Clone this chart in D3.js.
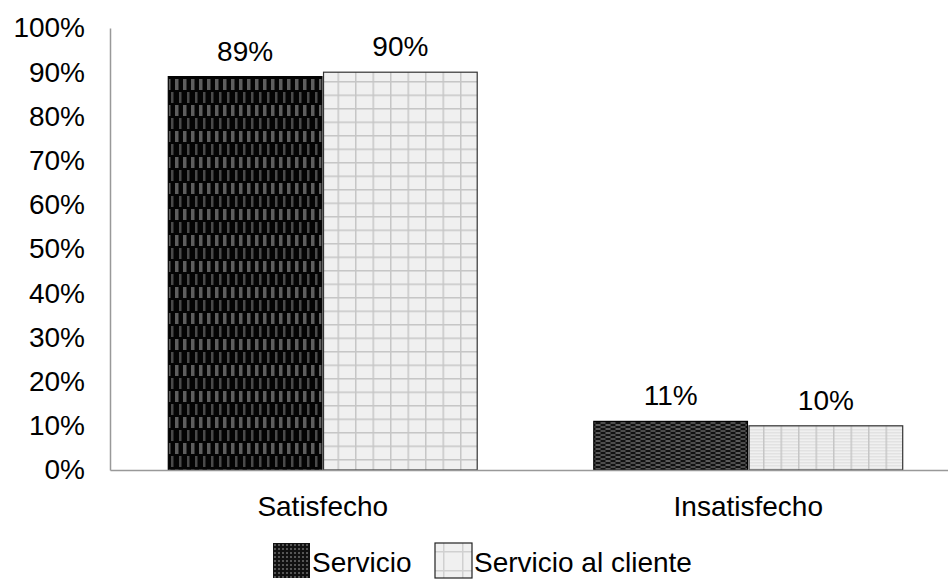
<!DOCTYPE html>
<html>
<head>
<meta charset="utf-8">
<script src="https://cdn.jsdelivr.net/npm/d3@7"></script>
<style>
  html, body { margin: 0; padding: 0; background: #fff; }
  svg { display: block; font-family: Arial, "Liberation Sans", sans-serif; }
</style>
</head>
<body>
<svg id="chart" width="948" height="579"></svg>
<script>
// Satisfaction by category for the two series
const categories = ["Satisfecho", "Insatisfecho"];
const seriesNames = ["Servicio", "Servicio al cliente"];
const servicio = [0.89, 0.11];
const servicioAlCliente = [0.90, 0.10];
const yTicks = [0, 0.1, 0.2, 0.3, 0.4, 0.5, 0.6, 0.7, 0.8, 0.9, 1.0];

const FONT = 28;
const svg = d3.select("#chart");
const defs = svg.append("defs");

// Fill patterns
function darkTall(id) {
  const p = defs.append("pattern").attr("id", id).attr("patternUnits", "userSpaceOnUse")
    .attr("width", 8).attr("height", 26);
  p.append("rect").attr("width", 8).attr("height", 26).attr("fill", "#040404");
  p.append("rect").attr("x", 1).attr("y", 1).attr("width", 3.5).attr("height", 11).attr("fill", "#5e5e5e");
  p.append("rect").attr("x", 5).attr("y", 14).attr("width", 2.5).attr("height", 11).attr("fill", "#4a4a4a");
}
function darkFlat(id) {
  const p = defs.append("pattern").attr("id", id).attr("patternUnits", "userSpaceOnUse")
    .attr("width", 10).attr("height", 4);
  p.append("rect").attr("width", 10).attr("height", 4).attr("fill", "#111");
  p.append("rect").attr("x", 0).attr("y", 0).attr("width", 5).attr("height", 2).attr("fill", "#5a5a5a");
  p.append("rect").attr("x", 5).attr("y", 2).attr("width", 5).attr("height", 2).attr("fill", "#4c4c4c");
}
function lightGrid(id, w, h, hColor) {
  const p = defs.append("pattern").attr("id", id).attr("patternUnits", "userSpaceOnUse")
    .attr("width", w).attr("height", h);
  p.append("rect").attr("width", w).attr("height", h).attr("fill", "#f0f0f0");
  p.append("rect").attr("x", 0).attr("y", 0).attr("width", w).attr("height", 1.5).attr("fill", hColor);
  p.append("rect").attr("x", 0).attr("y", 0).attr("width", 1.5).attr("height", h).attr("fill", "#c6c6c6");
}
darkTall("pDark0");
darkFlat("pDark1");
lightGrid("pLight0", 17.5, 13.5, "#c6c6c6");
lightGrid("pLight1", 17.5, 3, "#e2e2e2");
(function () {
  const p = defs.append("pattern").attr("id", "pLegDark").attr("patternUnits", "userSpaceOnUse")
    .attr("width", 4).attr("height", 4);
  p.append("rect").attr("width", 4).attr("height", 4).attr("fill", "#111");
  p.append("rect").attr("x", 1).attr("y", 1).attr("width", 2).attr("height", 2).attr("fill", "#555");
  const q = defs.append("pattern").attr("id", "pLegLight").attr("patternUnits", "userSpaceOnUse")
    .attr("width", 19).attr("height", 19).attr("x", 8).attr("y", 8);
  q.append("rect").attr("width", 19).attr("height", 19).attr("fill", "#f0f0f0");
  q.append("rect").attr("width", 19).attr("height", 1.5).attr("fill", "#d0d0d0");
  q.append("rect").attr("width", 1.5).attr("height", 19).attr("fill", "#d0d0d0");
})();

const plotLeft = 110, plotRight = 961, plotTop = 28, plotBottom = 470;

const x = d3.scaleBand().domain(categories).range([plotLeft, plotRight]).paddingInner(0).paddingOuter(0);
const groupPad = 0.137;
const x1 = d3.scaleBand().domain(seriesNames)
  .range([x.bandwidth() * groupPad, x.bandwidth() * (1 - groupPad)]).paddingInner(0.01);
const y = d3.scaleLinear().domain([0, 1]).range([plotBottom, plotTop]);

// Y axis
const yAxis = d3.axisLeft(y).tickValues(yTicks).tickSize(0).tickPadding(25)
  .tickFormat(d3.format(".0%"));
const gy = svg.append("g").attr("transform", `translate(${plotLeft},0)`).call(yAxis);
gy.select(".domain").attr("stroke", "#999").attr("stroke-width", 1.5);
gy.selectAll("text").attr("font-size", FONT).attr("fill", "#000");

// Bars
const rows = categories.map((c, i) => ({ cat: c, idx: i, vals: [servicio[i], servicioAlCliente[i]] }));
const groups = svg.append("g").selectAll("g").data(rows).join("g")
  .attr("transform", d => `translate(${x(d.cat)},0)`);

groups.selectAll("rect").data(d => d.vals.map((v, s) => ({ v, s, idx: d.idx })))
  .join("rect")
  .attr("x", d => x1(seriesNames[d.s]))
  .attr("y", d => y(d.v))
  .attr("width", x1.bandwidth())
  .attr("height", d => y(0) - y(d.v))
  .attr("fill", d => d.s === 0 ? `url(#pDark${d.idx})` : `url(#pLight${d.idx})`)
  .attr("stroke", d => d.s === 0 ? "#000" : "#333")
  .attr("stroke-width", 1.2);

// Value labels
groups.selectAll("text.val").data(d => d.vals.map((v, s) => ({ v, s })))
  .join("text").attr("class", "val")
  .attr("x", d => x1(seriesNames[d.s]) + x1.bandwidth() / 2)
  .attr("y", d => y(d.v) - 16)
  .attr("text-anchor", "middle")
  .attr("font-size", FONT)
  .text(d => d3.format(".0%")(d.v));

// X axis
const xAxis = d3.axisBottom(x).tickSize(0).tickPadding(26);
const gx = svg.append("g").attr("transform", `translate(0,${plotBottom})`).call(xAxis);
gx.select(".domain").attr("stroke", "#999").attr("stroke-width", 1.5);
gx.selectAll("text").attr("font-size", FONT).attr("fill", "#000");

// Legend
const legendY = 543, sw = 37;
const legendItems = [
  { name: seriesNames[0], x: 273, fill: "url(#pLegDark)" },
  { name: seriesNames[1], x: 435, fill: "url(#pLegLight)" }
];
const lg = svg.append("g").selectAll("g").data(legendItems).join("g")
  .attr("transform", d => `translate(${d.x},${legendY})`);
lg.append("rect").attr("width", sw).attr("height", 35).attr("fill", d => d.fill)
  .attr("stroke", (d, i) => i === 0 ? "none" : "#222").attr("stroke-width", 1.2);
lg.append("text").attr("x", sw + 2).attr("y", 29).attr("font-size", FONT).text(d => d.name);
</script>
</body>
</html>
